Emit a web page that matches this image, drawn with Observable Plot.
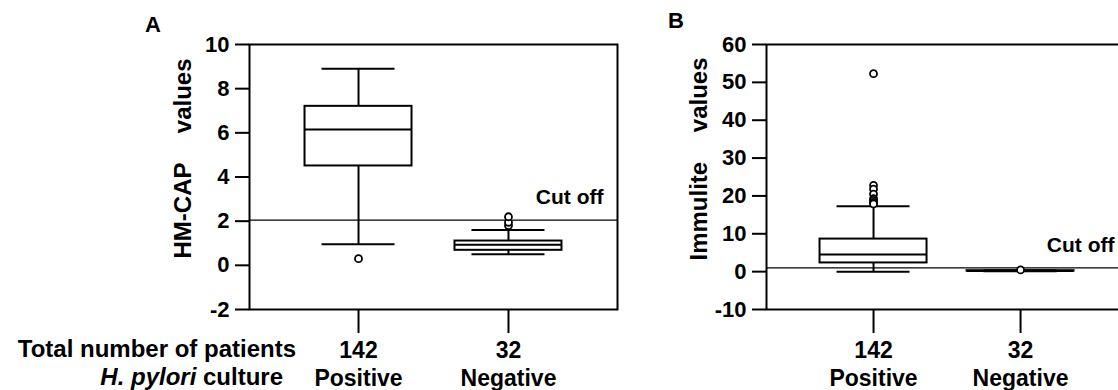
<!DOCTYPE html>
<html><head><meta charset="utf-8">
<script src="https://cdn.jsdelivr.net/npm/d3@7"></script>
<script src="https://cdn.jsdelivr.net/npm/@observablehq/plot@0.6"></script>
<style>
html,body{margin:0;padding:0;background:#fff;overflow:hidden;}
#wrap{position:relative;width:1118px;height:390px;overflow:hidden;font-family:"Liberation Sans",Arial,sans-serif;font-weight:bold;color:#000;}
.panel{position:absolute;top:0;width:640px;height:390px;}
.panel svg{max-width:none !important;}
.lbl{position:absolute;white-space:nowrap;line-height:1;}
</style></head><body>
<div id="wrap">
  <div id="pa" class="panel" style="left:0px"></div>
  <div id="pb" class="panel" style="left:517px"></div>
  <div class="lbl" style="left:145px;top:14px;font-size:22px">A</div>
  <div class="lbl" style="left:668px;top:10px;font-size:22px">B</div>
  <div class="lbl" style="left:0;width:296px;text-align:right;top:337px;font-size:24px">Total number of patients</div>
  <div class="lbl" style="left:0;width:283px;text-align:right;top:365px;font-size:24px"><i>H. pylori</i> culture</div>
</div>
<script>
// ---- data ----
const categories = ["Positive", "Negative"];
const patientCounts = [142, 32];

// Panel A: HM-CAP values
const hmcapTicks = [-2, 0, 2, 4, 6, 8, 10];
const hmcapWhiskerLow = [0.95, 0.5];
const hmcapQ1 = [4.5, 0.68];
const hmcapMedian = [6.15, 0.93];
const hmcapQ3 = [7.2, 1.1];
const hmcapWhiskerHigh = [8.9, 1.6];
const hmcapOutliers = [[0.3], [1.8, 1.95, 2.2]];
const hmcapCutoff = 2.05;

// Panel B: Immulite values
const immuliteTicks = [-10, 0, 10, 20, 30, 40, 50, 60];
const immuliteWhiskerLow = [0.0, 0.1];
const immuliteQ1 = [2.3, 0.15];
const immuliteMedian = [4.5, 0.2];
const immuliteQ3 = [8.6, 0.25];
const immuliteWhiskerHigh = [17.3, 0.35];
const immuliteOutliers = [[52.3, 22.8, 21.8, 20.5, 19.3, 18.8, 18.3, 17.9], [0.45]];
const immuliteCutoff = 1.0;

// ---- drawing ----
function panel(o) {
  const W = 640, ML = 249, MR = 23;
  const frameW = W - ML - MR;
  const pxPerUnit = frameW / (o.xDomain[1] - o.xDomain[0]);
  const BW = 53.5 / pxPerUnit, CW = 36.5 / pxPerUnit;
  const rows = categories.map((c, i) => ({
    pos: i + 1, low: o.low[i], q1: o.q1[i], median: o.median[i], q3: o.q3[i], high: o.high[i]
  }));
  const outs = o.outliers.flatMap((arr, i) => arr.map(v => ({pos: i + 1, v})));
  return Plot.plot({
    width: W, height: 390,
    marginLeft: ML, marginRight: MR, marginTop: 44, marginBottom: 81,
    style: {fontFamily: "'Liberation Sans', Arial, sans-serif", fontWeight: "bold", background: "transparent", overflow: "visible", color: "black", maxWidth: "none"},
    x: {domain: o.xDomain},
    y: {domain: [o.ticks[0], o.ticks[o.ticks.length - 1]]},
    marks: [
      Plot.ruleY([o.cutoff], {stroke: "black", strokeWidth: 1.2}),
      Plot.ruleX(rows, {x: "pos", y1: "low", y2: "q1", stroke: "black", strokeWidth: 2}),
      Plot.ruleX(rows, {x: "pos", y1: "q3", y2: "high", stroke: "black", strokeWidth: 2}),
      Plot.ruleY(rows, {y: "low", x1: d => d.pos - CW, x2: d => d.pos + CW, stroke: "black", strokeWidth: 2}),
      Plot.ruleY(rows, {y: "high", x1: d => d.pos - CW, x2: d => d.pos + CW, stroke: "black", strokeWidth: 2}),
      Plot.rect(rows, {x1: d => d.pos - BW, x2: d => d.pos + BW, y1: "q1", y2: "q3", fill: "white", stroke: "black", strokeWidth: 2}),
      Plot.ruleY(rows, {y: "median", x1: d => d.pos - BW, x2: d => d.pos + BW, stroke: "black", strokeWidth: 2}),
      Plot.dot(outs, {x: "pos", y: "v", r: 3.5, stroke: "black", strokeWidth: 1.8, fill: "white"}),
      Plot.text([o.cutoff], {y: d => d, text: () => "Cut off", frameAnchor: "right", textAnchor: "end", lineAnchor: "bottom", dx: o.cutoffDx, dy: -16, fontSize: 21, fill: "black"}),
      Plot.axisY({ticks: o.ticks, tickSize: 14, tickPadding: 6, tickFormat: d => String(d), fontSize: 22, strokeWidth: 2, label: null}),
      Plot.axisX({ticks: [1, 2], tickSize: 24, tickPadding: 5, tickFormat: d => `${patientCounts[d - 1]}\n${categories[d - 1]}`, fontSize: 23, lineHeight: 1.2, strokeWidth: 2, label: null}),
      Plot.frame({stroke: "black", strokeWidth: 2}),
      Plot.text([o.labelTop], {frameAnchor: "top-left", dx: o.labelDx, dy: o.labelTopDy, rotate: -90, textAnchor: "end", lineAnchor: "middle", fontSize: 24, fill: "black"}),
      Plot.text([o.labelBottom], {frameAnchor: "top-left", dx: o.labelDx, dy: o.labelBottomDy, rotate: -90, textAnchor: "start", lineAnchor: "middle", fontSize: 24, fill: "black"})
    ]
  });
}

document.getElementById("pa").appendChild(panel({
  xDomain: [0.273, 2.727], ticks: hmcapTicks,
  low: hmcapWhiskerLow, q1: hmcapQ1, median: hmcapMedian, q3: hmcapQ3, high: hmcapWhiskerHigh,
  outliers: hmcapOutliers, cutoff: hmcapCutoff, cutoffDx: -14,
  labelTop: "values", labelBottom: "HM-CAP", labelDx: -66, labelTopDy: 14, labelBottomDy: 214
}));
document.getElementById("pb").appendChild(panel({
  xDomain: [0.272, 2.775], ticks: immuliteTicks,
  low: immuliteWhiskerLow, q1: immuliteQ1, median: immuliteMedian, q3: immuliteQ3, high: immuliteWhiskerHigh,
  outliers: immuliteOutliers, cutoff: immuliteCutoff, cutoffDx: -20,
  labelTop: "values", labelBottom: "Immulite", labelDx: -67, labelTopDy: 13, labelBottomDy: 216
}));
</script>
</body></html>
